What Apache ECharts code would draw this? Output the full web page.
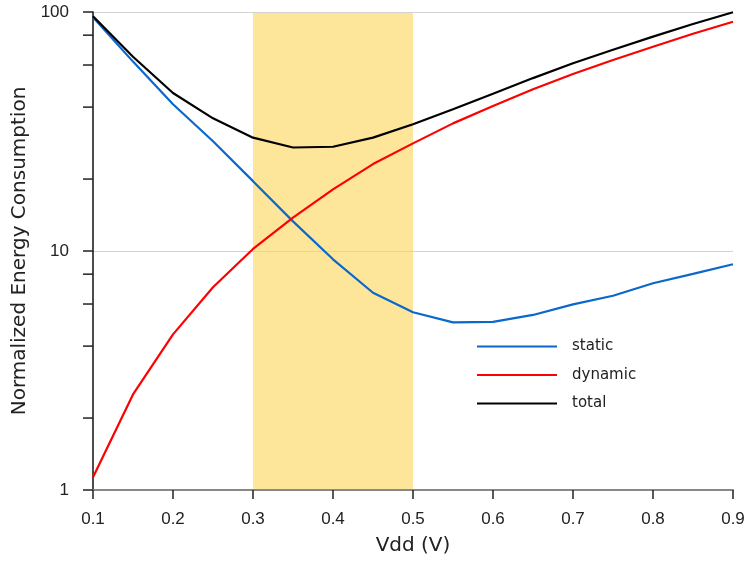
<!DOCTYPE html>
<html>
<head>
<meta charset="utf-8">
<script src="https://cdn.jsdelivr.net/npm/echarts@6/dist/echarts.min.js"></script>
<style>html,body{margin:0;padding:0;background:#fff;}#c{width:749px;height:563px;}</style>
</head>
<body>
<div id="c"></div>
<script>
const vdd = [0.1,0.15,0.2,0.25,0.3,0.35,0.4,0.45,0.5,0.55,0.6,0.65,0.7,0.75,0.8,0.85,0.9];
const staticE = [95,62,41.1,28.8,19.6,13.3,9.23,6.69,5.54,5.03,5.05,5.4,5.98,6.5,7.33,8.02,8.8];
const dynamicE = [1.13,2.51,4.48,7.05,10.2,13.8,18.1,23.1,28.2,34.2,40.4,47.5,55.0,63.0,71.6,81.1,91.0];
const totalE = [96,65,45.8,35.9,29.8,27.1,27.3,29.8,33.9,39.2,45.5,52.9,61,69.5,78.9,89.1,99.8];
const band = [0.3, 0.5];
const minorTicks = [2,4,6,8,20,40,60,80];
const seriesNames = ['static','dynamic','total'];

const FONT = 'Liberation Sans, Arial, sans-serif';
const WFONT = 'DejaVu Sans, sans-serif';
const chart = echarts.init(document.getElementById('c'), null, {renderer:'canvas'});
const pair = (xs, ys) => xs.map((x,i)=>[x, ys[i]]);

chart.setOption({
  animation:false,
  backgroundColor:'#fff',
  grid:{left:93,right:16,top:12,bottom:73,containLabel:false},
  legend:{
    data:seriesNames, orient:'vertical', left:472, top:334,
    itemWidth:80, itemHeight:14, itemGap:13.5,
    textStyle:{fontFamily:WFONT,fontSize:15,color:'#222',padding:[0,0,0,10]},
    icon:'path://M0,0 L80,0 L80,2 L0,2 Z'
  },
  xAxis:{
    type:'value', min:0.1, max:0.9, interval:0.1, z:3,
    name:'Vdd (V)', nameLocation:'middle', nameGap:46,
    nameTextStyle:{fontFamily:WFONT,fontSize:20,color:'#222'},
    axisLine:{show:true,onZero:false,lineStyle:{color:'#888',width:2}},
    axisTick:{show:true,length:9,lineStyle:{color:'#222',width:1.5}},
    axisLabel:{fontFamily:FONT,fontSize:17,color:'#222',margin:21,formatter:v=>v.toFixed(1)},
    splitLine:{show:false}
  },
  yAxis:{
    type:'log', logBase:10, min:1, max:100, z:3,
    name:'Normalized Energy Consumption', nameLocation:'middle', nameGap:60,
    nameTextStyle:{fontFamily:WFONT,fontSize:20,color:'#222'},
    axisLine:{show:true,lineStyle:{color:'#111',width:1.5}},
    axisTick:{show:true,length:10,lineStyle:{color:'#222',width:1.5}},
    axisLabel:{fontFamily:FONT,fontSize:17,color:'#222',margin:24},
    splitLine:{show:true,lineStyle:{color:'#d3d3d3',width:1}}
  },
  series:[
    {name:'band', type:'line', data:[], z:1, silent:true,
     markArea:{silent:true, itemStyle:{color:'#fde59a',opacity:1},
       data:[[{xAxis:band[0]},{xAxis:band[1]}]]}},
    {name:seriesNames[0], type:'line', data:pair(vdd, staticE), symbol:'none', z:5,
     lineStyle:{color:'#0a68cc',width:2.2}, itemStyle:{color:'#0a68cc'}},
    {name:seriesNames[1], type:'line', data:pair(vdd, dynamicE), symbol:'none', z:5,
     lineStyle:{color:'#ff0000',width:2.2}, itemStyle:{color:'#ff0000'}},
    {name:seriesNames[2], type:'line', data:pair(vdd, totalE), symbol:'none', z:5,
     lineStyle:{color:'#000000',width:2.2}, itemStyle:{color:'#000000'}},
    {name:'minorTicks', type:'custom', coordinateSystem:'cartesian2d', clip:false, silent:true, z:6,
     data:minorTicks.map(v=>[0.1, v]),
     renderItem:(params, api)=>{
       const p = api.coord([api.value(0), api.value(1)]);
       return {type:'line', shape:{x1:p[0]-10,y1:p[1],x2:p[0],y2:p[1]}, style:{stroke:'#222',lineWidth:1.5}};
     }}
  ]
});
</script>
</body>
</html>
